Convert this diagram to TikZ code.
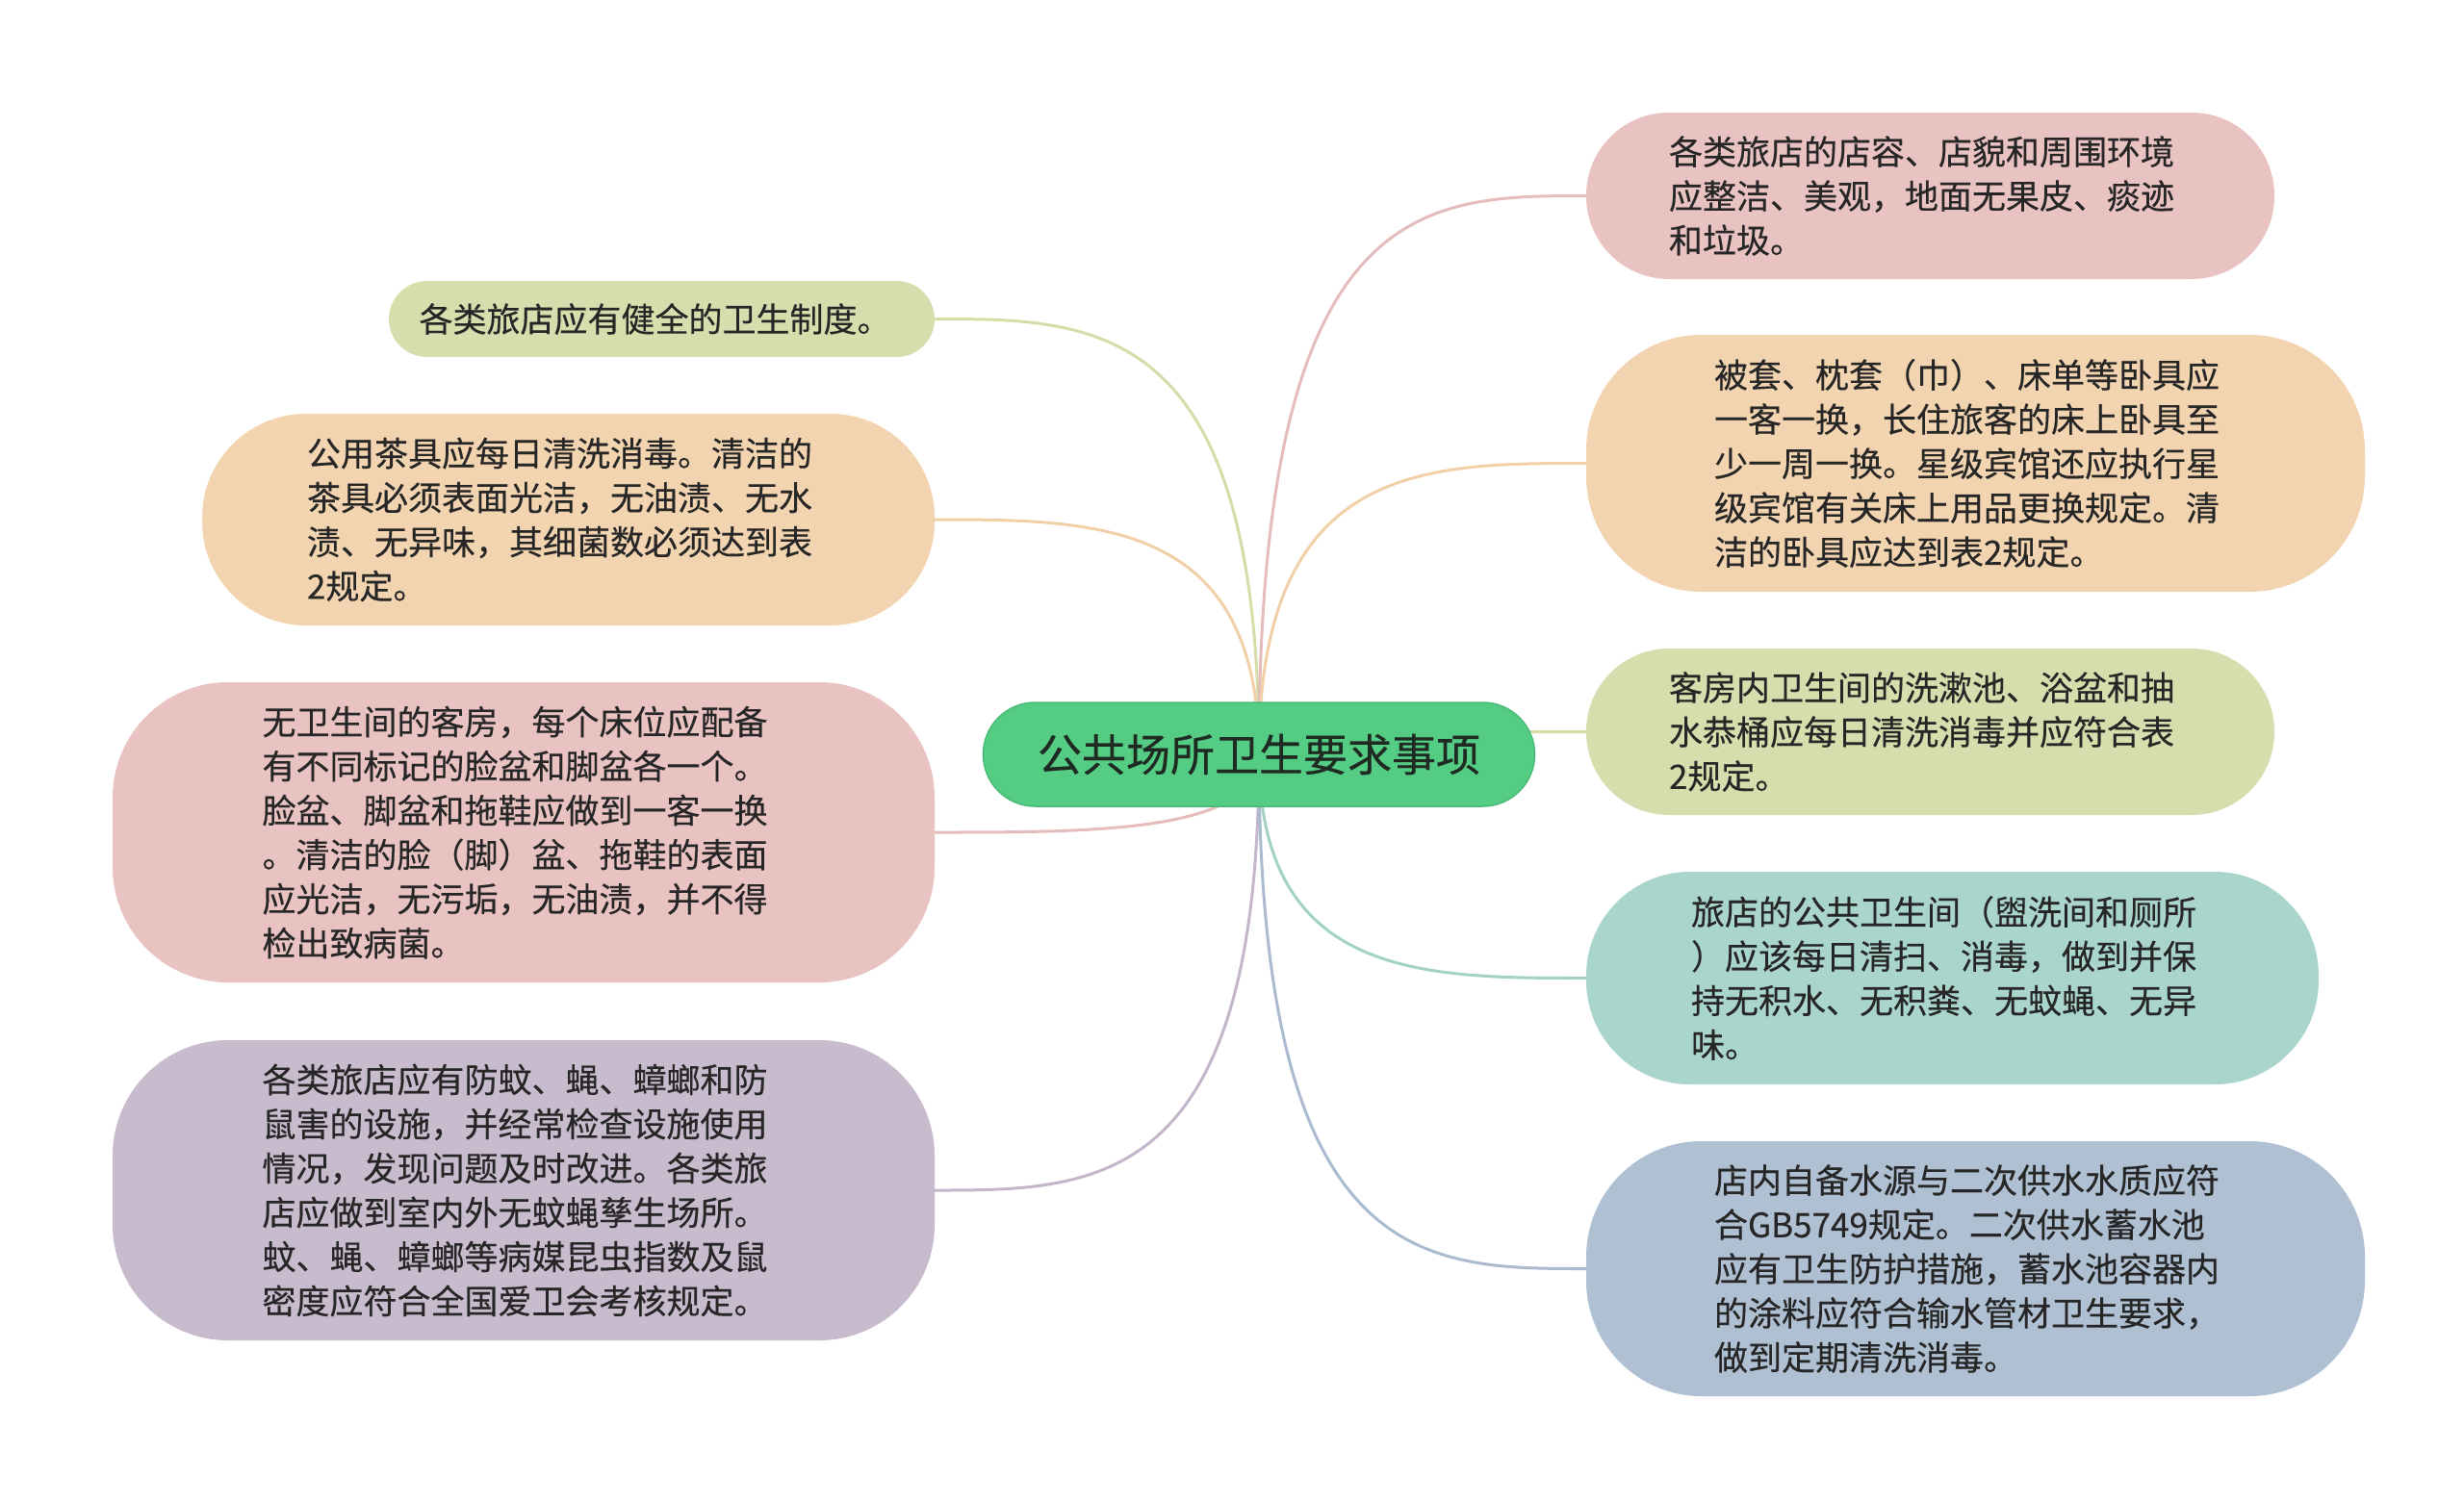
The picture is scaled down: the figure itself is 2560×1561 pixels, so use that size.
\documentclass[tikz,border=0pt]{standalone}
\usepackage{fontspec}
\newfontfamily\cjk{Noto Sans CJK SC}[FakeBold=0.35]
\usetikzlibrary{calc,backgrounds}
\definecolor{cgreen}{HTML}{54CC84}
\definecolor{cgreenb}{HTML}{46BC74}
\definecolor{ctxt}{HTML}{1F2A22}
\definecolor{txt}{HTML}{262626}
\definecolor{folive}{HTML}{D8DDAE}
\definecolor{fpeach}{HTML}{F3D4B1}
\definecolor{fpink}{HTML}{E9C2C2}
\definecolor{fpurple}{HTML}{C8BBCD}
\definecolor{fteal}{HTML}{AAD5CC}
\definecolor{fblue}{HTML}{B0C0D3}
\definecolor{lolive}{HTML}{D6DCA8}
\definecolor{lpeach}{HTML}{F1D0A8}
\definecolor{lpink}{HTML}{E5BBBB}
\definecolor{lpurple}{HTML}{C4B6CA}
\definecolor{lteal}{HTML}{A2D1C6}
\definecolor{lblue}{HTML}{AABBD0}
\begin{document}
\begin{tikzpicture}[x=1pt,y=-1pt,
  pill/.style={inner sep=0pt},
  ptext/.style={inner sep=0pt, align=left, text=txt, xshift=-9pt, font=\cjk\fontsize{35pt}{46pt}\selectfont},
  conn/.style={line width=3pt}]
\useasboundingbox (0,0) rectangle (2560,1561);
% central
\node[pill, fill=cgreen, draw=cgreenb, line width=1.5pt, rounded corners=54pt,
  minimum width=573pt, minimum height=108pt, text=ctxt,
  font=\cjk\fontsize{46pt}{55pt}\selectfont] (C) at (1308,784) {公共场所卫生要求事项};
% left
\node[pill, fill=folive, rounded corners=39.5pt, minimum width=567pt, minimum height=79pt] (L1) at (687.5,331.5) {};
\node[ptext, xshift=2pt] (L1t) at (L1.center) {各类旅店应有健全的卫生制度。};
\node[pill, fill=fpeach, rounded corners=108pt, minimum width=761pt, minimum height=220pt] (L2) at (590.5,540) {};
\node[ptext] (L2t) at (L2.center)
  {公用茶具应每日清洗消毒。清洁的\\茶具必须表面光洁，无油渍、无水\\渍、无异味，其细菌数必须达到表\\2规定。};
\node[pill, fill=fpink, rounded corners=120pt, minimum width=854pt, minimum height=312pt] (L3) at (544,865) {};
\node[ptext] (L3t) at (L3.center)
  {无卫生间的客房，每个床位应配备\\有不同标记的脸盆和脚盆各一个。\\脸盆、脚盆和拖鞋应做到一客一换\\。清洁的脸（脚）盆、拖鞋的表面\\应光洁，无污垢，无油渍，并不得\\检出致病菌。};
\node[pill, fill=fpurple, rounded corners=120pt, minimum width=854pt, minimum height=312pt] (L4) at (544,1237) {};
\node[ptext] (L4t) at (L4.center)
  {各类旅店应有防蚊、蝇、蟑螂和防\\鼠害的设施，并经常检查设施使用\\情况，发现问题及时改进。各类旅\\店应做到室内外无蚊蝇孳生场所。\\蚊、蝇、蟑螂等病媒昆虫指数及鼠\\密度应符合全国爱卫会考核规定。};
% right
\node[pill, fill=fpink, rounded corners=86pt, minimum width=715pt, minimum height=173pt] (R1) at (2005.5,203.5) {};
\node[ptext] (R1t) at (R1.center)
  {各类旅店的店容、店貌和周围环境\\应整洁、美观，地面无果皮、痰迹\\和垃圾。};
\node[pill, fill=fpeach, rounded corners=120pt, minimum width=809pt, minimum height=267pt] (R2) at (2052.5,481.5) {};
\node[ptext] (R2t) at (R2.center)
  {被套、枕套（巾）、床单等卧具应\\一客一换，长住旅客的床上卧具至\\少一周一换。星级宾馆还应执行星\\级宾馆有关床上用品更换规定。清\\洁的卧具应达到表2规定。};
\node[pill, fill=folive, rounded corners=86pt, minimum width=715pt, minimum height=173pt] (R3) at (2005.5,760.5) {};
\node[ptext] (R3t) at (R3.center)
  {客房内卫生间的洗漱池、浴盆和抽\\水恭桶应每日清洗消毒并应符合表\\2规定。};
\node[pill, fill=fteal, rounded corners=108pt, minimum width=761pt, minimum height=221pt] (R4) at (2028.5,1016.5) {};
\node[ptext] (R4t) at (R4.center)
  {旅店的公共卫生间（盥洗间和厕所\\）应该每日清扫、消毒，做到并保\\持无积水、无积粪、无蚊蝇、无异\\味。};
\node[pill, fill=fblue, rounded corners=120pt, minimum width=809pt, minimum height=265pt] (R5) at (2052.5,1318.5) {};
\node[ptext] (R5t) at (R5.center)
  {店内自备水源与二次供水水质应符\\合GB5749规定。二次供水蓄水池\\应有卫生防护措施，蓄水池容器内\\的涂料应符合输水管材卫生要求，\\做到定期清洗消毒。};
% connectors
\begin{scope}[on background layer]
\foreach \n/\c in {L1/lolive, L2/lpeach, L3/lpink, L4/lpurple}
  \draw[conn,\c] (C.center) .. controls (C.center |- \n.east) and ($(C.center |- \n.east)!0.5!(\n.east)$) .. (\n.east);
\foreach \n/\c in {R1/lpink, R2/lpeach, R3/lolive, R4/lteal, R5/lblue}
  \draw[conn,\c] (C.center) .. controls (C.center |- \n.west) and ($(C.center |- \n.west)!0.5!(\n.west)$) .. (\n.west);
\end{scope}
\end{tikzpicture}
\end{document}
